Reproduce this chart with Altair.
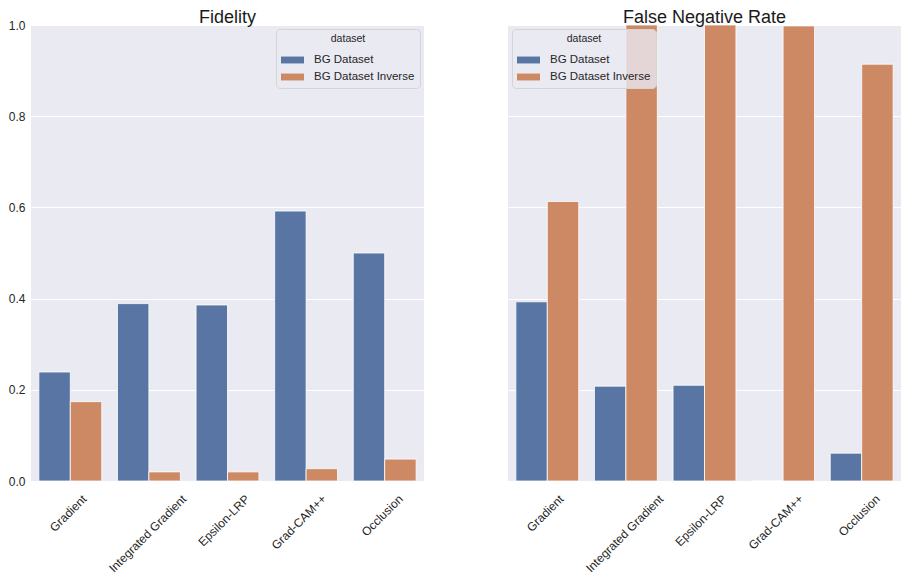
import altair as alt
import pandas as pd

methods = ["Gradient", "Integrated Gradient", "Epsilon-LRP", "Grad-CAM++", "Occlusion"]
datasets = ["BG Dataset", "BG Dataset Inverse"]
fidelity_bg = [0.239, 0.389, 0.386, 0.592, 0.500]
fidelity_inv = [0.174, 0.020, 0.020, 0.027, 0.048]
fnr_bg = [0.393, 0.208, 0.210, 0.0, 0.061]
fnr_inv = [0.613, 1.0, 1.0, 0.998, 0.914]
y_ticks = [0.0, 0.2, 0.4, 0.6, 0.8, 1.0]
colors = ["#5975A4", "#CC8963"]

FONT = "Liberation Sans"


def make_df(bg, inv):
    rows = []
    for m, a, b in zip(methods, bg, inv):
        rows.append({"method": m, "dataset": datasets[0], "value": a})
        rows.append({"method": m, "dataset": datasets[1], "value": b})
    return pd.DataFrame(rows)


def panel(df, title, legend_orient, show_y, title_offset):
    x_axis = alt.Axis(
        labelAngle=-45, labelAlign="right", labelBaseline="top",
        labelPadding=12, ticks=False, domain=False, grid=False,
        labelFontSize=12, labelColor="#262626", labelFont=FONT,
        labelOffset={"condition": {"test": "false", "value": 0},
                     "expr": "length(datum.label) * 1.93 - 4.8"},
    )
    y_axis = alt.Axis(
        values=y_ticks, format=".1f", labels=show_y, ticks=False, domain=False,
        grid=True, gridColor="white", gridWidth=1, labelPadding=6,
        labelFontSize=12, labelColor="#262626", labelFont=FONT, title=None,
    )
    return alt.Chart(df).mark_bar(stroke="white", strokeWidth=0.8).encode(
        x=alt.X("method:N", sort=methods, title=None,
                scale=alt.Scale(paddingInner=0.2, paddingOuter=0.1), axis=x_axis),
        xOffset=alt.XOffset("dataset:N", sort=datasets),
        y=alt.Y("value:Q", scale=alt.Scale(domain=[0, 1], nice=False), axis=y_axis),
        color=alt.Color(
            "dataset:N", sort=datasets,
            scale=alt.Scale(domain=datasets, range=colors),
            legend=alt.Legend(
                title="dataset", orient=legend_orient, offset=4,
                titleAnchor="middle", titleAlign="center", titleFontSize=10.5,
                titleFontWeight="normal", titleColor="#262626", titleFont=FONT,
                titlePadding=4,
                labelFontSize=11.5, labelColor="#262626", labelFont=FONT,
                labelOffset=10,
                symbolType="M-1,-0.3H1V0.3H-1Z", symbolSize=529,
                symbolStrokeWidth=0, symbolOpacity=1,
                fillColor="rgba(234,234,242,0.8)", strokeColor="#d4d4d8",
                cornerRadius=4, padding=5, rowPadding=-6,
            ),
        ),
    ).properties(
        width=393, height=456,
        title=alt.TitleParams(title, fontSize=18, font=FONT, fontWeight="normal",
                              color="#1a1a1a", offset=title_offset, anchor="middle",
                              frame="group"),
    )


left = panel(make_df(fidelity_bg, fidelity_inv), "Fidelity", "top-right", True, -8)
right = panel(make_df(fnr_bg, fnr_inv), "False Negative Rate", "top-left", False, -2)

chart = alt.hconcat(left, right, spacing=84).resolve_legend(color="independent").configure_view(
    fill="#EAEAF2", stroke=None
).properties(padding={"left": 0, "top": 0, "right": 0, "bottom": 0})

chart.save("out.html", embed_options={"renderer": "svg", "actions": False})
